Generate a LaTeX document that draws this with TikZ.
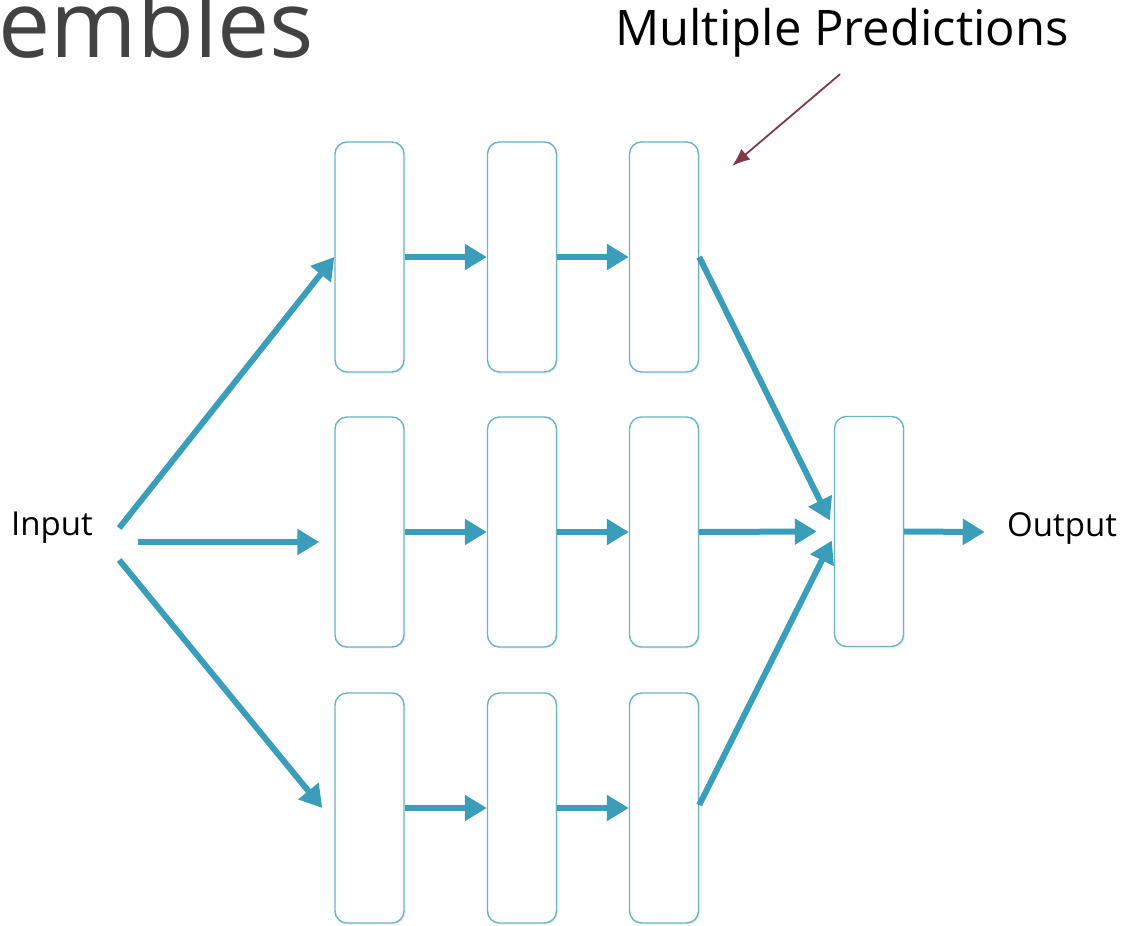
\documentclass[tikz,border=0pt]{standalone}
\usepackage{fontspec}
\setmainfont{Open Sans}
\usetikzlibrary{arrows.meta,calc,positioning,shadows}
\definecolor{flowteal}{RGB}{58,158,186}
\definecolor{boxteal}{RGB}{104,180,198}
\definecolor{notered}{RGB}{125,58,74}
\definecolor{titlegray}{RGB}{66,66,68}

\begin{document}
\begin{tikzpicture}[x=0.5pt,y=-0.5pt,
  layer/.style={draw=boxteal,line width=0.7pt,rounded corners=6pt,fill=white,
    minimum width=34.5pt,minimum height=115pt,inner sep=0pt,
    drop shadow={opacity=0.12,shadow xshift=0.8pt,shadow yshift=-0.8pt}},
  flow/.style={-{Triangle[length=11pt,width=12.5pt]},flowteal,line width=3pt},
  tag/.style={inner sep=0pt,font=\fontsize{16.5}{20}\selectfont}]
  \useasboundingbox (0,0) rectangle (1122,925);

  % heading, cut at the left edge
  \node[anchor=base west,inner sep=0pt,text=titlegray,font=\fontsize{46.5}{50}\selectfont] (head) at (-2,58) {embles};

  % three chains of three layers, plus the combining layer
  \foreach \r/\y in {a/257,b/532,c/808}{
    \foreach \c/\x in {1/369.5,2/522,3/664}{
      \node[layer] (\r\c) at (\x,\y) {};
    }
  }
  \node[layer] (out) at (869,531.5) {};

  \node[tag] (in) at (52,528) {Input};
  \node[tag] (res) at (1062,528) {Output};

  % input fans out to the chains
  \draw[flow] ($(in.east)+(26,0)$) -- (a1.west);
  \draw[flow] ($(in.east)+(45,14)$) -- ($(b1.west)+(-15,10)$);
  \draw[flow] ($(in.east)+(26,32)$) -- ($(c1.west)+(-12,0)$);

  % along each chain
  \foreach \r in {a,b,c}{
    \draw[flow] (\r1.east) -- (\r2.west);
    \draw[flow] (\r2.east) -- (\r3.west);
  }

  % chains merge into one
  \draw[flow] (a3.east) -- ($(out.west)+(-4,-11)$);
  \draw[flow] (b3.east) -- ($(out.west)+(-17,0)$);
  \draw[flow] ($(c3.east)+(0,-3)$) -- ($(out.west)+(-2,9)$);
  \draw[flow] (out.east) -- ($(res.west)+(-22,4)$);

  % annotation
  \node[anchor=base,inner sep=0pt,font=\fontsize{24.5}{29}\selectfont] (note) at (842,46) {Multiple Predictions};
  \coordinate (hit) at (732,166);
  \draw[-{Latex[length=9pt,width=7pt]},notered,line width=0.9pt] ($(note.south)+(-2,16)$) -- (hit);
\end{tikzpicture}
\end{document}
